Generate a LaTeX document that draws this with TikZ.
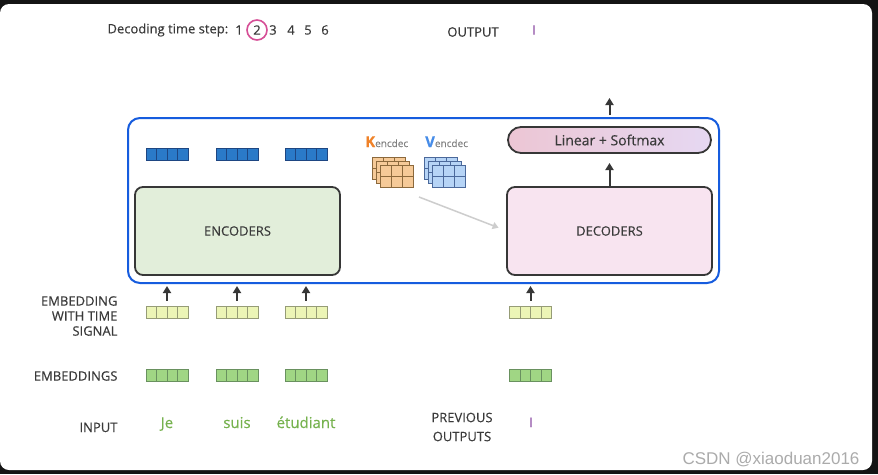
\documentclass[tikz,border=0pt]{standalone}
\usepackage{fontspec}
\setmainfont{Open Sans}[FakeBold=0.3]
\newfontfamily\wmfont{Liberation Sans}
\usetikzlibrary{arrows.meta}
\definecolor{txt}{RGB}{58,58,58}
\definecolor{frameblue}{RGB}{22,92,222}
\definecolor{encblue}{RGB}{42,122,200}
\definecolor{encline}{RGB}{30,70,130}
\definecolor{tsfill}{RGB}{236,245,182}
\definecolor{tsline}{RGB}{150,156,118}
\definecolor{embfill}{RGB}{160,214,132}
\definecolor{embline}{RGB}{105,145,95}
\definecolor{encfill}{RGB}{226,238,218}
\definecolor{decfill}{RGB}{248,228,240}
\definecolor{boxline}{RGB}{55,55,55}
\definecolor{linpink}{RGB}{236,198,212}
\definecolor{linlav}{RGB}{230,216,242}
\definecolor{kfill}{RGB}{246,202,152}
\definecolor{kline}{RGB}{140,105,60}
\definecolor{korange}{RGB}{240,130,40}
\definecolor{vfill}{RGB}{182,212,246}
\definecolor{vline}{RGB}{75,105,155}
\definecolor{vblue}{RGB}{70,140,232}
\definecolor{wordgreen}{RGB}{118,178,78}
\definecolor{outpurple}{RGB}{150,92,172}
\definecolor{ringpink}{RGB}{214,78,150}
\definecolor{kvgray}{RGB}{205,205,205}
\tikzset{
  lbl/.style={font=\fontsize{13}{15}\selectfont, text=txt},
  word/.style={font=\fontsize{15}{17}\selectfont, text=wordgreen, anchor=base},
  box/.style={draw=boxline, line width=1.8pt, rounded corners=8pt, outer sep=0pt,
    font=\fontsize{13}{15}\selectfont, text=txt},
  vec/.style={rectangle, minimum width=42pt, minimum height=12pt, inner sep=0pt, outer sep=0pt},
  up/.style={draw=boxline, line width=2pt, -{Triangle[width=8pt,length=7pt]}},
  ring/.style={circle, draw=ringpink, line width=1.6pt, inner sep=1.5pt, minimum size=20pt}
}
\begin{document}
\begin{tikzpicture}[x=1pt,y=-1pt]
\useasboundingbox (0,0) rectangle (878,474);
\fill[black!92] (0,0) rectangle (878,474);
\fill[white, rounded corners=9pt] (0,4) rectangle (872,470);

% time steps
\node[lbl, anchor=west] (steplbl) at (104,30) {Decoding time step:};
\foreach \n/\x in {1/239,3/273,4/291,5/308,6/325}
{ \node[lbl] (t\n) at (\x,30) {\n};
}
\node[lbl, ring] (t2) at (257,30) {2};
\node[lbl] (outlbl) at (473,32) {OUTPUT};
\node[font=\fontsize{13}{15}\selectfont, text=outpurple] (outword) at (534,30) {I};

% blue frame and boxes
\node[draw=frameblue, line width=2pt, rounded corners=12pt, outer sep=0pt,
  minimum width=591pt, minimum height=165pt] (frame) at (423.5,200.5) {};
\node[box, fill=encfill, minimum width=205pt, minimum height=88pt] (enc) at (237.5,231) {ENCODERS};
\node[box, fill=decfill, minimum width=205pt, minimum height=88pt] (dec) at (609.5,231) {DECODERS};
\node[box, left color=linpink, right color=linlav, rounded corners=13pt,
  minimum width=203pt, minimum height=26pt, font=\fontsize{14}{16}\selectfont] (lin) at (609.5,140) {Linear + Softmax};
\coordinate (outtip) at (609.5,98);
\draw[up, shorten >=10pt] (dec.north) -- (lin.south);
\draw[up, shorten <=12pt] (lin.north) -- (outtip);

% vectors
\foreach \n/\x in {1/167,2/237,3/306}
{ \node[vec, fill=encblue, draw=encline] (out\n) at (\x,154) {};
  \foreach \i in {1,2,3}
    \draw[encline] ([xshift=\i*10.5pt]out\n.north west) -- ([xshift=\i*10.5pt]out\n.south west);
}
\foreach \n/\x in {1/167,2/237,3/306,4/530.5}
{ \node[vec, fill=tsfill, draw=tsline] (ts\n) at (\x,312.5) {};
  \node[vec, fill=embfill, draw=embline] (emb\n) at (\x,375) {};
  \foreach \i in {1,2,3}
  { \draw[tsline] ([xshift=\i*10.5pt]ts\n.north west) -- ([xshift=\i*10.5pt]ts\n.south west);
    \draw[embline] ([xshift=\i*10.5pt]emb\n.north west) -- ([xshift=\i*10.5pt]emb\n.south west);
  }
  \draw[up, shorten <=6pt, shorten >=3pt] (ts\n.north) -- (ts\n.north |- frame.south);
}

% K and V of the encoder-decoder attention
\foreach \o in {0,4,8}
{ \draw[kline, fill=kfill] (372+\o,157+\o) rectangle ++(33,22);
  \draw[kline] (383+\o,157+\o) -- ++(0,22) (394+\o,157+\o) -- ++(0,22) (372+\o,168+\o) -- ++(33,0);
  \draw[vline, fill=vfill] (424+\o,157+\o) rectangle ++(33,22);
  \draw[vline] (435+\o,157+\o) -- ++(0,22) (446+\o,157+\o) -- ++(0,22) (424+\o,168+\o) -- ++(33,0);
}
\node[anchor=base west, inner sep=0pt, font=\fontsize{15}{16}\selectfont\bfseries, text=korange] (klbl) at (365,147)
  {K\fontsize{10}{11}\selectfont\mdseries\textcolor{gray}{encdec}};
\node[anchor=base west, inner sep=0pt, font=\fontsize{15}{16}\selectfont\bfseries, text=vblue] (vlbl) at (425,147)
  {V\fontsize{10}{11}\selectfont\mdseries\textcolor{gray}{encdec}};
\coordinate (kvout) at (419,197);
\draw[kvgray, line width=1.5pt, -{Triangle[width=7pt,length=6pt]}, shorten >=9pt] (kvout) -- (dec.west);

% row labels
\node[lbl, anchor=east, align=right] (tslbl) at (121,316)
  {EMBEDDING\\WITH TIME\\SIGNAL};
\node[lbl, anchor=east] (emblbl) at (121,376) {EMBEDDINGS};
\node[lbl, anchor=base east] (inlbl) at (121,432) {INPUT};
\node[lbl, align=center, font=\fontsize{13}{19}\selectfont] (prevlbl) at (462,427) {PREVIOUS\\OUTPUTS};

% words
\node[word] (w1) at (167,428) {Je};
\node[word] (w2) at (237,428) {suis};
\node[word] (w3) at (306,428) {étudiant};
\node[word, text=outpurple, font=\fontsize{13}{15}\selectfont] (prevword) at (531,427) {I};

\node[anchor=base east, font=\wmfont\fontsize{17}{19}\selectfont, text=black!33] (wm) at (863,464) {CSDN @xiaoduan2016};
\end{tikzpicture}
\end{document}
